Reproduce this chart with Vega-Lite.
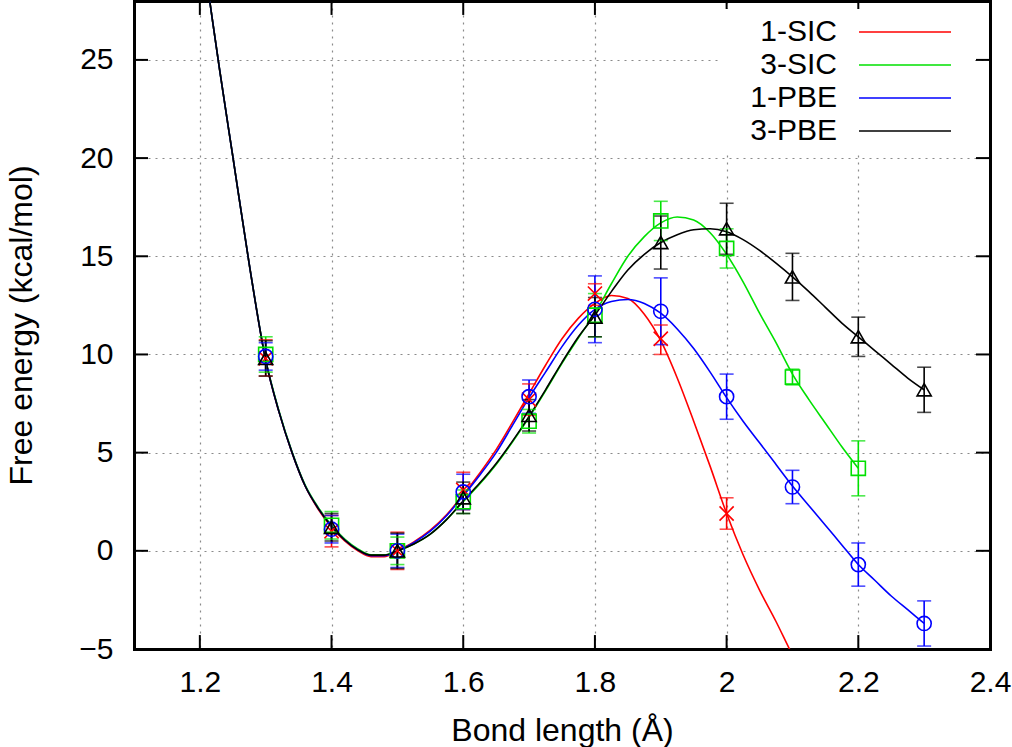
{
  "$schema": "https://vega.github.io/schema/vega-lite/v6.json",
  "width": 856,
  "height": 648,
  "autosize": {"type": "none"},
  "padding": {"left": 134, "top": 1, "right": 22, "bottom": 98},
  "background": "white",
  "config": {
    "font": "Liberation Sans",
    "axis": {"labelColor": "black", "titleColor": "black", "tickColor": "black", "domainColor": "black", "labelFont": "Liberation Sans", "titleFont": "Liberation Sans"},
    "legend": {"labelColor": "black", "labelFont": "Liberation Sans"}
  },
  "datasets": {
    "vticks": [
      {"x":1.2,"y":-5,"y2":-4.29},{"x":1.4,"y":-5,"y2":-4.29},{"x":1.6,"y":-5,"y2":-4.29},{"x":1.8,"y":-5,"y2":-4.29},{"x":2.0,"y":-5,"y2":-4.29},{"x":2.2,"y":-5,"y2":-4.29},
      {"x":1.2,"y":28,"y2":27.29},{"x":1.4,"y":28,"y2":27.29},{"x":1.6,"y":28,"y2":27.29},{"x":1.8,"y":28,"y2":27.29},{"x":2.0,"y":28,"y2":27.29},{"x":2.2,"y":28,"y2":27.29}
    ],
    "hticks": [
      {"y":0,"x":1.1,"x2":1.1213},{"y":5,"x":1.1,"x2":1.1213},{"y":10,"x":1.1,"x2":1.1213},{"y":15,"x":1.1,"x2":1.1213},{"y":20,"x":1.1,"x2":1.1213},{"y":25,"x":1.1,"x2":1.1213},
      {"y":0,"x":2.4,"x2":2.3787},{"y":5,"x":2.4,"x2":2.3787},{"y":10,"x":2.4,"x2":2.3787},{"y":15,"x":2.4,"x2":2.3787},{"y":20,"x":2.4,"x2":2.3787},{"y":25,"x":2.4,"x2":2.3787}
    ],
    "curves": [
      {"s":"1-SIC","x":1.2,"y":31.5},{"s":"1-SIC","x":1.215,"y":28.0},{"s":"1-SIC","x":1.23,"y":24.5},{"s":"1-SIC","x":1.25,"y":20.1},{"s":"1-SIC","x":1.275,"y":14.6},{"s":"1-SIC","x":1.3,"y":9.7},{"s":"1-SIC","x":1.32,"y":7.1},{"s":"1-SIC","x":1.34,"y":5.0},{"s":"1-SIC","x":1.36,"y":3.3},{"s":"1-SIC","x":1.38,"y":2.1},{"s":"1-SIC","x":1.4,"y":1.2},{"s":"1-SIC","x":1.42,"y":0.5},{"s":"1-SIC","x":1.44,"y":0.0},{"s":"1-SIC","x":1.46,"y":-0.3},{"s":"1-SIC","x":1.48,"y":-0.3},{"s":"1-SIC","x":1.5,"y":0.0},{"s":"1-SIC","x":1.525,"y":0.45},{"s":"1-SIC","x":1.55,"y":1.05},{"s":"1-SIC","x":1.575,"y":1.85},
      {"s":"1-SIC","x":1.6,"y":2.85},{"s":"1-SIC","x":1.625,"y":3.95},{"s":"1-SIC","x":1.65,"y":5.15},{"s":"1-SIC","x":1.675,"y":6.55},{"s":"1-SIC","x":1.7,"y":8.0},{"s":"1-SIC","x":1.725,"y":9.45},{"s":"1-SIC","x":1.75,"y":10.8},{"s":"1-SIC","x":1.775,"y":11.85},{"s":"1-SIC","x":1.8,"y":12.6},{"s":"1-SIC","x":1.825,"y":13.0},{"s":"1-SIC","x":1.85,"y":12.85},{"s":"1-SIC","x":1.875,"y":12.05},{"s":"1-SIC","x":1.9,"y":10.7},{"s":"1-SIC","x":1.925,"y":8.8},{"s":"1-SIC","x":1.95,"y":6.6},{"s":"1-SIC","x":1.975,"y":4.3},{"s":"1-SIC","x":2.0,"y":1.9},{"s":"1-SIC","x":2.025,"y":-0.2},{"s":"1-SIC","x":2.05,"y":-2.0},{"s":"1-SIC","x":2.075,"y":-3.6},{"s":"1-SIC","x":2.1,"y":-5.3},{"s":"1-SIC","x":2.125,"y":-6.8},
      {"s":"3-SIC","x":1.2,"y":31.5},{"s":"3-SIC","x":1.215,"y":28.0},{"s":"3-SIC","x":1.23,"y":24.5},{"s":"3-SIC","x":1.25,"y":20.1},{"s":"3-SIC","x":1.275,"y":14.6},{"s":"3-SIC","x":1.3,"y":9.75},{"s":"3-SIC","x":1.32,"y":7.15},{"s":"3-SIC","x":1.34,"y":5.05},{"s":"3-SIC","x":1.36,"y":3.35},{"s":"3-SIC","x":1.38,"y":2.2},{"s":"3-SIC","x":1.4,"y":1.3},{"s":"3-SIC","x":1.42,"y":0.6},{"s":"3-SIC","x":1.44,"y":0.1},{"s":"3-SIC","x":1.46,"y":-0.2},{"s":"3-SIC","x":1.48,"y":-0.2},{"s":"3-SIC","x":1.5,"y":0.0},{"s":"3-SIC","x":1.525,"y":0.35},{"s":"3-SIC","x":1.55,"y":0.85},{"s":"3-SIC","x":1.575,"y":1.6},
      {"s":"3-SIC","x":1.6,"y":2.5},{"s":"3-SIC","x":1.625,"y":3.4},{"s":"3-SIC","x":1.65,"y":4.4},{"s":"3-SIC","x":1.675,"y":5.55},{"s":"3-SIC","x":1.7,"y":6.8},{"s":"3-SIC","x":1.725,"y":8.15},{"s":"3-SIC","x":1.75,"y":9.55},{"s":"3-SIC","x":1.775,"y":10.85},{"s":"3-SIC","x":1.8,"y":12.1},{"s":"3-SIC","x":1.825,"y":13.6},{"s":"3-SIC","x":1.85,"y":15.0},{"s":"3-SIC","x":1.875,"y":16.0},{"s":"3-SIC","x":1.9,"y":16.7},{"s":"3-SIC","x":1.925,"y":17.0},{"s":"3-SIC","x":1.95,"y":16.85},{"s":"3-SIC","x":1.975,"y":16.2},{"s":"3-SIC","x":2.0,"y":15.1},{"s":"3-SIC","x":2.025,"y":13.7},{"s":"3-SIC","x":2.05,"y":12.1},{"s":"3-SIC","x":2.075,"y":10.6},{"s":"3-SIC","x":2.1,"y":9.0},{"s":"3-SIC","x":2.125,"y":7.7},{"s":"3-SIC","x":2.15,"y":6.5},{"s":"3-SIC","x":2.175,"y":5.3},{"s":"3-SIC","x":2.2,"y":4.2},
      {"s":"1-PBE","x":1.2,"y":31.5},{"s":"1-PBE","x":1.215,"y":28.0},{"s":"1-PBE","x":1.23,"y":24.5},{"s":"1-PBE","x":1.25,"y":20.1},{"s":"1-PBE","x":1.275,"y":14.6},{"s":"1-PBE","x":1.3,"y":9.7},{"s":"1-PBE","x":1.32,"y":7.1},{"s":"1-PBE","x":1.34,"y":5.0},{"s":"1-PBE","x":1.36,"y":3.3},{"s":"1-PBE","x":1.38,"y":2.15},{"s":"1-PBE","x":1.4,"y":1.25},{"s":"1-PBE","x":1.42,"y":0.55},{"s":"1-PBE","x":1.44,"y":0.05},{"s":"1-PBE","x":1.46,"y":-0.25},{"s":"1-PBE","x":1.48,"y":-0.25},{"s":"1-PBE","x":1.5,"y":0.0},{"s":"1-PBE","x":1.525,"y":0.42},{"s":"1-PBE","x":1.55,"y":1.0},{"s":"1-PBE","x":1.575,"y":1.8},
      {"s":"1-PBE","x":1.6,"y":2.8},{"s":"1-PBE","x":1.625,"y":3.85},{"s":"1-PBE","x":1.65,"y":5.0},{"s":"1-PBE","x":1.675,"y":6.4},{"s":"1-PBE","x":1.7,"y":7.8},{"s":"1-PBE","x":1.725,"y":9.1},{"s":"1-PBE","x":1.75,"y":10.4},{"s":"1-PBE","x":1.775,"y":11.5},{"s":"1-PBE","x":1.8,"y":12.3},{"s":"1-PBE","x":1.825,"y":12.7},{"s":"1-PBE","x":1.85,"y":12.8},{"s":"1-PBE","x":1.875,"y":12.6},{"s":"1-PBE","x":1.9,"y":12.1},{"s":"1-PBE","x":1.925,"y":11.3},{"s":"1-PBE","x":1.95,"y":10.3},{"s":"1-PBE","x":1.975,"y":9.1},{"s":"1-PBE","x":2.0,"y":7.8},{"s":"1-PBE","x":2.025,"y":6.6},{"s":"1-PBE","x":2.05,"y":5.5},{"s":"1-PBE","x":2.075,"y":4.4},{"s":"1-PBE","x":2.1,"y":3.3},{"s":"1-PBE","x":2.125,"y":2.3},{"s":"1-PBE","x":2.15,"y":1.3},{"s":"1-PBE","x":2.175,"y":0.3},{"s":"1-PBE","x":2.2,"y":-0.7},{"s":"1-PBE","x":2.225,"y":-1.5},{"s":"1-PBE","x":2.25,"y":-2.3},{"s":"1-PBE","x":2.275,"y":-3.0},{"s":"1-PBE","x":2.3,"y":-3.7},
      {"s":"3-PBE","x":1.2,"y":31.5},{"s":"3-PBE","x":1.215,"y":28.0},{"s":"3-PBE","x":1.23,"y":24.5},{"s":"3-PBE","x":1.25,"y":20.1},{"s":"3-PBE","x":1.275,"y":14.6},{"s":"3-PBE","x":1.3,"y":9.7},{"s":"3-PBE","x":1.32,"y":7.1},{"s":"3-PBE","x":1.34,"y":5.0},{"s":"3-PBE","x":1.36,"y":3.3},{"s":"3-PBE","x":1.38,"y":2.15},{"s":"3-PBE","x":1.4,"y":1.25},{"s":"3-PBE","x":1.42,"y":0.55},{"s":"3-PBE","x":1.44,"y":0.05},{"s":"3-PBE","x":1.46,"y":-0.22},{"s":"3-PBE","x":1.48,"y":-0.22},{"s":"3-PBE","x":1.5,"y":0.0},{"s":"3-PBE","x":1.525,"y":0.35},{"s":"3-PBE","x":1.55,"y":0.85},{"s":"3-PBE","x":1.575,"y":1.6},
      {"s":"3-PBE","x":1.6,"y":2.55},{"s":"3-PBE","x":1.625,"y":3.45},{"s":"3-PBE","x":1.65,"y":4.45},{"s":"3-PBE","x":1.675,"y":5.6},{"s":"3-PBE","x":1.7,"y":6.85},{"s":"3-PBE","x":1.725,"y":8.2},{"s":"3-PBE","x":1.75,"y":9.6},{"s":"3-PBE","x":1.775,"y":10.9},{"s":"3-PBE","x":1.8,"y":12.0},{"s":"3-PBE","x":1.825,"y":13.2},{"s":"3-PBE","x":1.85,"y":14.3},{"s":"3-PBE","x":1.875,"y":15.1},{"s":"3-PBE","x":1.9,"y":15.7},{"s":"3-PBE","x":1.925,"y":16.1},{"s":"3-PBE","x":1.95,"y":16.35},{"s":"3-PBE","x":1.975,"y":16.4},{"s":"3-PBE","x":2.0,"y":16.25},{"s":"3-PBE","x":2.025,"y":15.85},{"s":"3-PBE","x":2.05,"y":15.3},{"s":"3-PBE","x":2.075,"y":14.65},{"s":"3-PBE","x":2.1,"y":13.95},{"s":"3-PBE","x":2.125,"y":13.2},{"s":"3-PBE","x":2.15,"y":12.4},{"s":"3-PBE","x":2.175,"y":11.6},{"s":"3-PBE","x":2.2,"y":10.9},{"s":"3-PBE","x":2.225,"y":10.2},{"s":"3-PBE","x":2.25,"y":9.5},{"s":"3-PBE","x":2.275,"y":8.8},{"s":"3-PBE","x":2.3,"y":8.2}
    ],
    "pts": [
      {"s":"1-SIC","x":1.3,"y":9.8,"lo":8.9,"hi":10.75},{"s":"1-SIC","x":1.4,"y":1.0,"lo":0.2,"hi":1.8},{"s":"1-SIC","x":1.5,"y":0.0,"lo":-0.95,"hi":0.95},{"s":"1-SIC","x":1.6,"y":3.1,"lo":2.1,"hi":4.0},{"s":"1-SIC","x":1.7,"y":7.7,"lo":6.9,"hi":8.5},{"s":"1-SIC","x":1.8,"y":13.1,"lo":12.5,"hi":13.6},{"s":"1-SIC","x":1.9,"y":10.8,"lo":10.0,"hi":11.5},{"s":"1-SIC","x":2.0,"y":1.9,"lo":1.1,"hi":2.7},
      {"s":"3-SIC","x":1.3,"y":10.0,"lo":9.1,"hi":10.9},{"s":"3-SIC","x":1.4,"y":1.3,"lo":0.6,"hi":2.0},{"s":"3-SIC","x":1.5,"y":0.0,"lo":-0.7,"hi":0.7},{"s":"3-SIC","x":1.6,"y":2.5,"lo":1.9,"hi":3.1},{"s":"3-SIC","x":1.7,"y":6.6,"lo":6.0,"hi":7.2},{"s":"3-SIC","x":1.8,"y":12.0,"lo":10.9,"hi":13.1},{"s":"3-SIC","x":1.9,"y":16.8,"lo":15.8,"hi":17.8},{"s":"3-SIC","x":2.0,"y":15.4,"lo":14.4,"hi":16.4},{"s":"3-SIC","x":2.1,"y":8.85,"lo":8.45,"hi":9.25},{"s":"3-SIC","x":2.2,"y":4.2,"lo":2.8,"hi":5.6},
      {"s":"1-PBE","x":1.3,"y":9.9,"lo":9.2,"hi":10.6},{"s":"1-PBE","x":1.4,"y":1.1,"lo":0.4,"hi":1.8},{"s":"1-PBE","x":1.5,"y":0.0,"lo":-0.85,"hi":0.85},{"s":"1-PBE","x":1.6,"y":3.0,"lo":2.1,"hi":3.9},{"s":"1-PBE","x":1.7,"y":7.85,"lo":7.0,"hi":8.7},{"s":"1-PBE","x":1.8,"y":12.3,"lo":10.6,"hi":14.0},{"s":"1-PBE","x":1.9,"y":12.2,"lo":10.5,"hi":13.9},{"s":"1-PBE","x":2.0,"y":7.85,"lo":6.7,"hi":9.0},{"s":"1-PBE","x":2.1,"y":3.25,"lo":2.4,"hi":4.1},{"s":"1-PBE","x":2.2,"y":-0.7,"lo":-1.8,"hi":0.4},{"s":"1-PBE","x":2.3,"y":-3.7,"lo":-4.85,"hi":-2.55},
      {"s":"3-PBE","x":1.3,"y":9.8,"lo":8.9,"hi":10.7},{"s":"3-PBE","x":1.4,"y":1.2,"lo":0.5,"hi":1.9},{"s":"3-PBE","x":1.5,"y":0.0,"lo":-0.9,"hi":0.9},{"s":"3-PBE","x":1.6,"y":2.7,"lo":1.9,"hi":3.5},{"s":"3-PBE","x":1.7,"y":6.9,"lo":6.1,"hi":7.7},{"s":"3-PBE","x":1.8,"y":11.9,"lo":10.9,"hi":12.9},{"s":"3-PBE","x":1.9,"y":15.7,"lo":14.35,"hi":17.05},{"s":"3-PBE","x":2.0,"y":16.4,"lo":15.1,"hi":17.7},{"s":"3-PBE","x":2.1,"y":13.95,"lo":12.75,"hi":15.15},{"s":"3-PBE","x":2.2,"y":10.9,"lo":9.9,"hi":11.9},{"s":"3-PBE","x":2.3,"y":8.2,"lo":7.05,"hi":9.35}
    ]
  },
  "layer": [
    {
      "data": {"name": "curves"},
      "mark": {"type": "line", "interpolate": "monotone", "strokeWidth": 1.6, "clip": true},
      "encoding": {
        "x": {"field": "x", "type": "quantitative",
              "scale": {"domain": [1.1, 2.4], "nice": false, "zero": false},
              "axis": {"orient": "bottom", "values": [1.2, 1.4, 1.6, 1.8, 2.0, 2.2, 2.4], "format": "~g", "grid": true, "gridDash": [2, 5], "gridColor": "#8a8a8a", "gridWidth": 1.2, "ticks": false, "domain": true, "domainWidth": 3, "domainCap": "square", "labelFontSize": 30, "labelPadding": 18, "labelFlush": false, "labelOverlap": false, "labelBound": false, "title": "Bond length (Å)", "titleFontSize": 32, "titleFontWeight": "normal", "titleY": 91, "titleBaseline": "alphabetic"}},
        "y": {"field": "y", "type": "quantitative",
              "scale": {"domain": [-5, 28], "nice": false, "zero": false},
              "axis": {"orient": "left", "values": [-5, 0, 5, 10, 15, 20, 25], "grid": true, "gridDash": [2, 5], "gridColor": "#8a8a8a", "gridWidth": 1.2, "ticks": false, "domain": true, "domainWidth": 3, "domainCap": "square", "labelFontSize": 30, "labelPadding": 21, "labelFlush": false, "labelOverlap": false, "labelBound": false, "title": "Free energy (kcal/mol)", "titleFontSize": 32, "titleFontWeight": "normal", "titleX": -113, "titleY": 324, "titleAngle": -90, "titleBaseline": "middle"}},
        "color": {"field": "s", "type": "nominal",
                  "scale": {"domain": ["1-SIC", "3-SIC", "1-PBE", "3-PBE"], "range": ["#ff0000", "#00e000", "#0000ff", "#000000"]},
                  "legend": {"orient": "none", "legendX": 588, "legendY": 8, "title": null, "symbolType": "M22.8,0H41.2M43.6,0", "symbolSize": 100, "symbolStrokeWidth": 1.6, "labelFontSize": 30, "labelAlign": "right", "labelOffset": 77, "rowPadding": 3, "fillColor": "white", "padding": 8}}
      }
    },
    {
      "data": {"name": "vticks"},
      "mark": {"type": "rule", "strokeWidth": 2},
      "encoding": {
        "x": {"field": "x", "type": "quantitative", "axis": null},
        "y": {"field": "y", "type": "quantitative", "axis": null},
        "y2": {"field": "y2"},
        "color": {"value": "black"}
      }
    },
    {
      "data": {"name": "hticks"},
      "mark": {"type": "rule", "strokeWidth": 2},
      "encoding": {
        "x": {"field": "x", "type": "quantitative", "axis": null},
        "x2": {"field": "x2"},
        "y": {"field": "y", "type": "quantitative", "axis": null},
        "color": {"value": "black"}
      }
    },
    {
      "data": {"name": "pts"},
      "mark": {"type": "rule", "strokeWidth": 1.6},
      "encoding": {
        "x": {"field": "x", "type": "quantitative", "axis": null},
        "y": {"field": "lo", "type": "quantitative", "axis": null},
        "y2": {"field": "hi"},
        "color": {"field": "s", "type": "nominal", "legend": null}
      }
    },
    {
      "data": {"name": "pts"},
      "mark": {"type": "tick", "orient": "horizontal", "size": 14, "thickness": 1.6},
      "encoding": {
        "x": {"field": "x", "type": "quantitative", "scale": {"domain": [1.1, 2.4], "nice": false, "zero": false},
              "axis": {"orient": "top", "ticks": false, "labels": false, "domain": true, "domainWidth": 3, "domainCap": "square", "grid": false, "title": null}},
        "y": {"field": "lo", "type": "quantitative", "scale": {"domain": [-5, 28], "nice": false, "zero": false},
              "axis": {"orient": "right", "ticks": false, "labels": false, "domain": true, "domainWidth": 3, "domainCap": "square", "grid": false, "title": null}},
        "color": {"field": "s", "type": "nominal", "legend": null}
      }
    },
    {
      "data": {"name": "pts"},
      "mark": {"type": "tick", "orient": "horizontal", "size": 14, "thickness": 1.6},
      "encoding": {
        "x": {"field": "x", "type": "quantitative", "axis": null},
        "y": {"field": "hi", "type": "quantitative", "axis": null},
        "color": {"field": "s", "type": "nominal", "legend": null}
      }
    },
    {
      "data": {"name": "pts"},
      "mark": {"type": "point", "filled": false, "strokeWidth": 1.6, "size": 200, "opacity": 1},
      "encoding": {
        "x": {"field": "x", "type": "quantitative", "axis": null},
        "y": {"field": "y", "type": "quantitative", "axis": null},
        "color": {"field": "s", "type": "nominal", "legend": null},
        "shape": {"field": "s", "type": "nominal", "legend": null,
                  "scale": {"domain": ["1-SIC", "3-SIC", "1-PBE", "3-PBE"], "range": ["M-1,-1L1,1M-1,1L1,-1", "square", "circle", "triangle-up"]}}
      }
    }
  ],
  "resolve": {"axis": {"x": "independent", "y": "independent"}, "legend": {"color": "independent"}}
}
